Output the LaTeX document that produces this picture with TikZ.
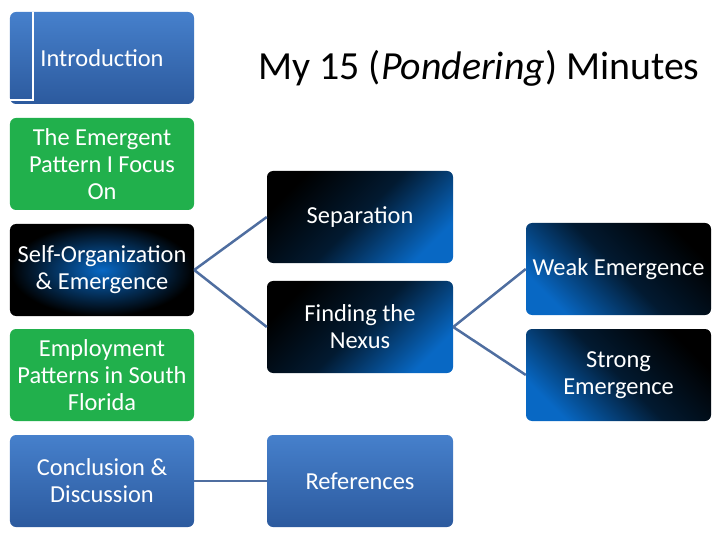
\documentclass[tikz,border=0pt]{standalone}
\usepackage{fontspec}
\setmainfont{Carlito}
\definecolor{tileblue}{RGB}{70,128,204}
\definecolor{tilebluedark}{RGB}{44,90,158}
\definecolor{tilegreen}{RGB}{33,176,76}
\definecolor{glowblue}{RGB}{8,104,196}
\definecolor{linkblue}{RGB}{79,110,160}
\begin{document}
\begin{tikzpicture}[x=1bp,y=-1bp,
  tile/.style={rounded corners=6bp,minimum width=184bp,minimum height=92bp,
    text=white,align=center,inner sep=0pt,font=\fontsize{24.5}{27}\selectfont},
  bluetile/.style={tile,top color=tileblue,bottom color=tilebluedark},
  greentile/.style={tile,fill=tilegreen},
  glowtile/.style={tile,inner color=glowblue,outer color=black},
  darktile/.style={tile,top color=black,bottom color=glowblue,middle color=black!75!glowblue,shading angle=45},
  darktileR/.style={tile,top color=black,bottom color=glowblue,middle color=black!75!glowblue,shading angle=-45},
  link/.style={draw=linkblue,line width=2.5bp}]
\useasboundingbox (0,0) rectangle (720,540);

% left column
\node[bluetile]  (intro)   at (102,58)  {Introduction};
\node[greentile] (focus)   at (102,164) {The Emergent\\Pattern I Focus\\On};
\node[glowtile]  (selforg) at (102,270) {Self-Organization\\\& Emergence};
\node[greentile] (employ)  at (102,375) {Employment\\Patterns in South\\Florida};
\node[bluetile]  (concl)   at (102,481) {Conclusion \&\\Discussion};
\draw[white,line width=1.5bp] (intro.north west) ++(23,0) -- ++(0,88) -- ++(-23,0);

% middle column
\node[darktile] (separation) at (360,217) [minimum width=186bp] {Separation};
\node[darktile] (nexus)      at (360,327) [minimum width=186bp] {Finding the\\Nexus};
\node[bluetile] (refs)       at (360,481) [minimum width=186bp] {References};

% right column
\node[darktileR] (weak)   at (618.5,269) [minimum width=185bp] {Weak Emergence};
\node[darktileR] (strong) at (618.5,375) [minimum width=185bp] {Strong\\Emergence};

\node (title) at (479,68) {\fontsize{40}{44}\selectfont My 15 (\textit{Pondering}) Minutes};

\draw[link] (selforg.east) -- (separation.west);
\draw[link] (selforg.east) -- (nexus.west);
\draw[link] (nexus.east) -- (weak.west);
\draw[link] (nexus.east) -- (strong.west);
\draw[link] (concl.east) -- (refs.west);
\end{tikzpicture}
\end{document}
